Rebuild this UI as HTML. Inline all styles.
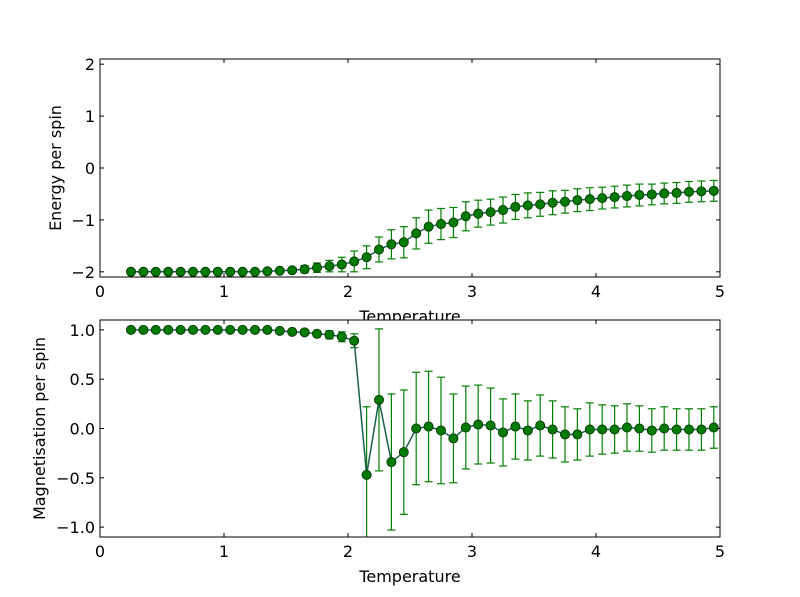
<!DOCTYPE html>
<html><head><meta charset="utf-8"><style>html,body{margin:0;padding:0;background:#fff}svg{display:block}text{font-family:"DejaVu Sans","Liberation Sans",sans-serif;font-size:16px;fill:#000}</style></head>
<body>
<svg id="s" width="800" height="597" xmlns="http://www.w3.org/2000/svg"></svg>
<script>
const s=document.getElementById('s');let h='';
const X=t=>100+124*t;
const E=[-2,-2,-2,-2,-2,-2,-2,-2,-2,-2,-2,-1.99,-1.98,-1.97,-1.95,-1.92,-1.89,-1.86,-1.80,-1.72,-1.57,-1.47,-1.43,-1.26,-1.13,-1.08,-1.05,-0.93,-0.88,-0.85,-0.81,-0.75,-0.72,-0.70,-0.67,-0.65,-0.62,-0.60,-0.58,-0.56,-0.54,-0.52,-0.51,-0.49,-0.48,-0.46,-0.45,-0.44];
const EE=[0,0,0,0,0,0,0,0,0,0,0.01,0.02,0.03,0.05,0.07,0.09,0.11,0.14,0.2,0.22,0.24,0.28,0.3,0.3,0.32,0.3,0.29,0.28,0.26,0.25,0.25,0.24,0.24,0.23,0.23,0.22,0.22,0.22,0.21,0.21,0.21,0.21,0.2,0.2,0.2,0.2,0.2,0.2];
const M=[1,1,1,1,1,1,1,1,1,1,1,1,0.99,0.98,0.975,0.96,0.95,0.93,0.89,-0.47,0.29,-0.34,-0.24,0.0,0.02,-0.02,-0.10,0.01,0.04,0.03,-0.04,0.02,-0.02,0.03,-0.01,-0.06,-0.06,-0.01,-0.01,-0.01,0.01,0.0,-0.02,0.0,-0.01,-0.01,-0.01,0.01];
const ME=[0,0,0,0,0,0,0,0,0,0,0,0.005,0.01,0.015,0.02,0.03,0.04,0.05,0.07,0.69,0.72,0.69,0.63,0.57,0.56,0.54,0.45,0.42,0.40,0.38,0.34,0.33,0.30,0.31,0.29,0.28,0.26,0.27,0.25,0.24,0.24,0.23,0.22,0.22,0.21,0.21,0.21,0.21];
function panel(top,bot,ymin,ymax,ticks,fmt,D,DE,ylab,lx){
  const Y=v=>bot-(v-ymin)/(ymax-ymin)*(bot-top);
  h+=`<clipPath id="c${top}"><rect x="100" y="${top}" width="620" height="${bot-top}"/></clipPath><g clip-path="url(#c${top})">`;
  let pts=[];
  D.forEach((v,i)=>{const t=0.25+0.1*i,x=X(t);pts.push(x+','+Y(v));
    if(DE[i]>0){const a=Y(v+DE[i]),b=Y(v-DE[i]);h+=`<line x1="${x}" y1="${a}" x2="${x}" y2="${b}" stroke="#008000" stroke-width="1.2"/><line x1="${x-4}" y1="${a}" x2="${x+4}" y2="${a}" stroke="#008000" stroke-width="1.2"/><line x1="${x-4}" y1="${b}" x2="${x+4}" y2="${b}" stroke="#008000" stroke-width="1.2"/>`;}});
  h+=`<polyline points="${pts.join(' ')}" fill="none" stroke="#1a6050" stroke-width="1.5"/>`;
  D.forEach((v,i)=>{h+=`<circle cx="${X(0.25+0.1*i)}" cy="${Y(v)}" r="4.6" fill="#007a00" stroke="#003000" stroke-width="0.8"/>`;});
  h+=`</g><rect x="100" y="${top}" width="620" height="${bot-top}" fill="none" stroke="#000" stroke-width="1"/>`;
  for(let t=0;t<=5;t++){const x=X(t);h+=`<line x1="${x}" y1="${bot}" x2="${x}" y2="${bot-4}" stroke="#000"/><line x1="${x}" y1="${top}" x2="${x}" y2="${top+4}" stroke="#000"/><text x="${x}" y="${bot+20}" text-anchor="middle">${t}</text>`;}
  ticks.forEach(v=>{const y=Y(v);h+=`<line x1="100" y1="${y}" x2="104" y2="${y}" stroke="#000"/><line x1="720" y1="${y}" x2="716" y2="${y}" stroke="#000"/><text x="95" y="${y+6}" text-anchor="end">${fmt(v)}</text>`;});
  h+=`<text transform="translate(${lx},${(top+bot)/2}) rotate(-90)" text-anchor="middle">${ylab}</text>`;
}
const neg=s=>s.replace('-','\u2212');
h+=`<text x="410" y="322" text-anchor="middle">Temperature</text>`;
h+=`<rect x="100" y="320" width="620" height="10" fill="#fff"/>`;
panel(59,277,-2.1,2.1,[-2,-1,0,1,2],v=>neg(String(v)),E,EE,'Energy per spin',61);
panel(320,537,-1.1,1.1,[-1,-0.5,0,0.5,1],v=>neg(v.toFixed(1)),M,ME,'Magnetisation per spin',45);
h+=`<text x="410" y="582" text-anchor="middle">Temperature</text>`;
s.innerHTML=h;
</script>
</body></html>
